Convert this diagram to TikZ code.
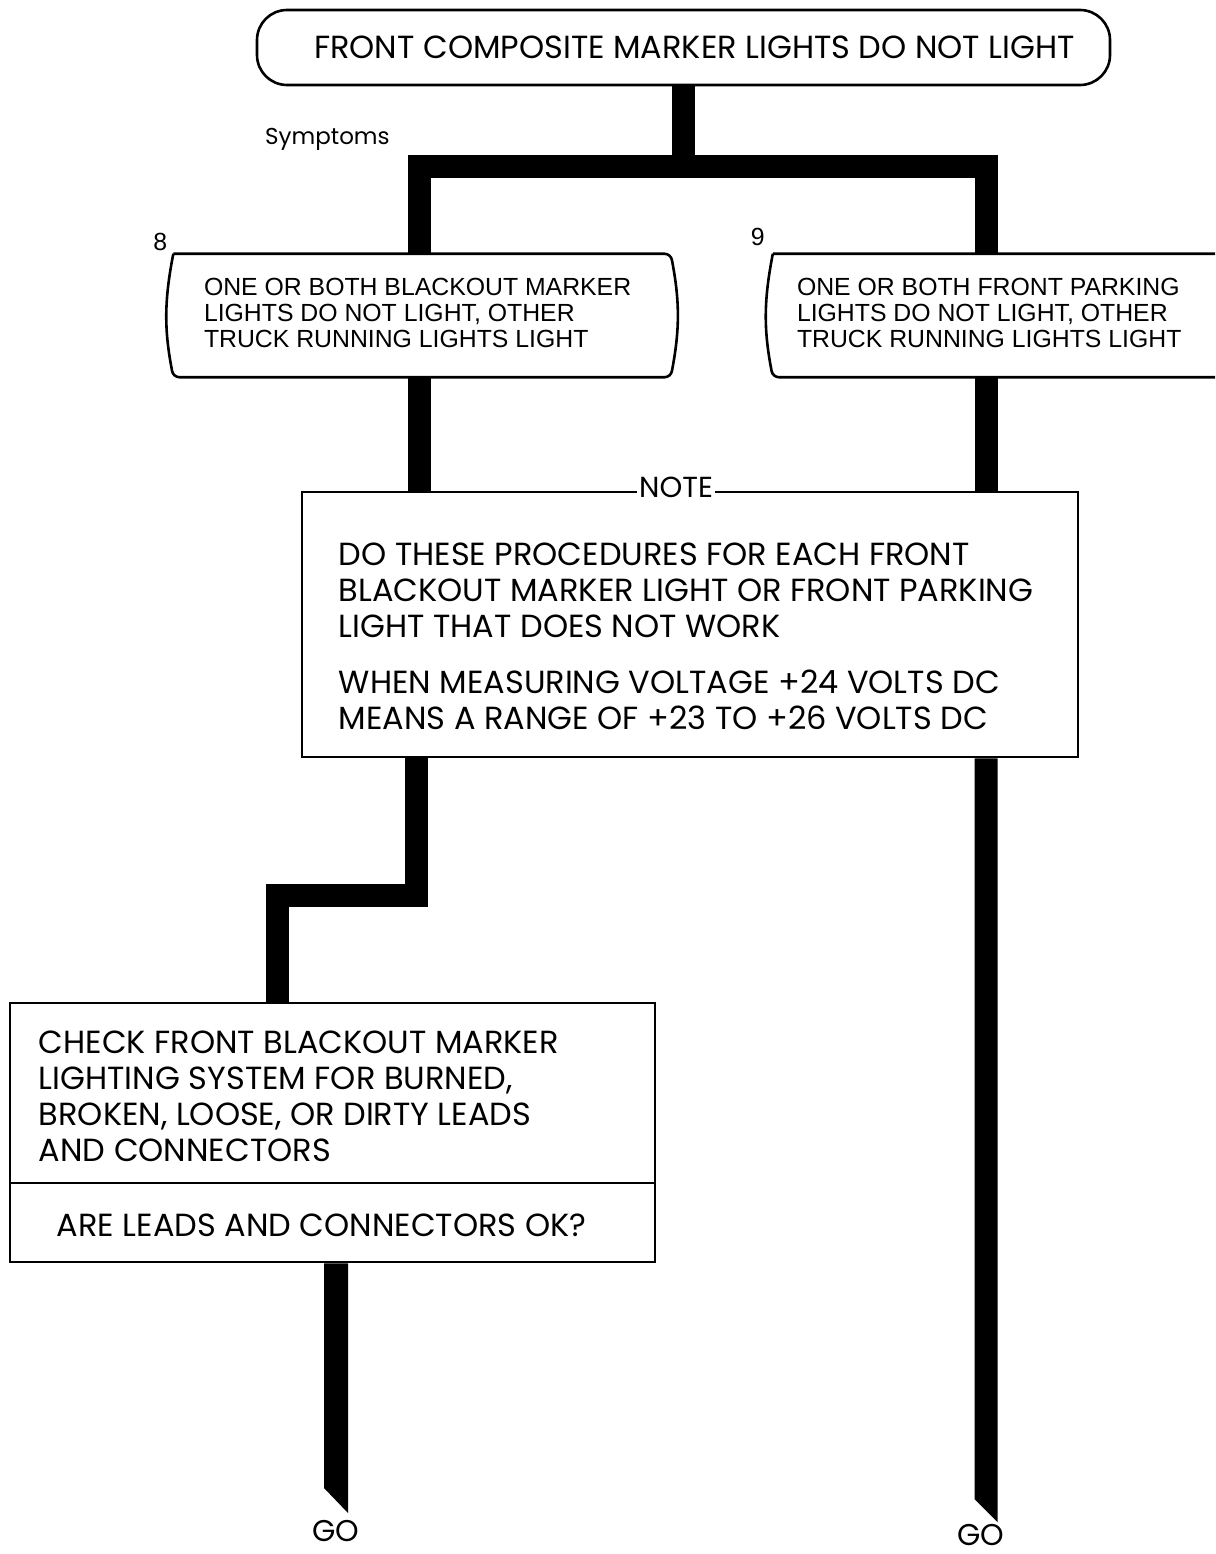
\documentclass[tikz,border=0pt]{standalone}
\usepackage{fontspec}
\newfontfamily\fut{Poppins}
\newfontfamily\helv{Liberation Sans}
\usetikzlibrary{calc}
\begin{document}
\begin{tikzpicture}[x=1pt,y=-1pt,
  flow/.style={line width=23pt, line cap=butt, line join=miter},
  outline/.style={draw, line width=2.6pt},
  futtext/.style={font=\fut\fontsize{32}{36}\selectfont, align=left, inner sep=0pt},
  helvtext/.style={font=\helv\fontsize{24.8}{26}\selectfont, align=left, inner sep=0pt},
  gotext/.style={font=\fut\fontsize{30}{32}\selectfont, inner sep=0pt},
  symbox/.style={minimum width=497pt, minimum height=123pt, inner sep=0pt},
  bulge/.style={outline, rounded corners=6pt},
  ]
\path[use as bounding box] (0,0) rectangle (1215,1554);
\clip (0,0) rectangle (1215,1554);

% top box
\node[outline, rounded corners=30pt, minimum width=853pt, minimum height=75pt] (top) at (683.5,47.5) {};
\node[futtext] (toptxt) at ($(top.center)+(11,0)$) {FRONT COMPOSITE MARKER LIGHTS DO NOT LIGHT};

\node[font=\fut\fontsize{23}{28}\selectfont, inner sep=0pt, anchor=base west] (sym) at (265,145) {Symptoms};

% symptom boxes
\node[symbox] (b8) at (422,315.5) {};
\draw[bulge] (b8.north west) -- (b8.north east) to[bend left=11] (b8.south east)
  -- (b8.south west) to[bend left=11] (b8.north west);
\node[helvtext, anchor=north west] (t8) at ($(b8.north west)+(30.5,24)$)
  {ONE OR BOTH BLACKOUT MARKER\\LIGHTS DO NOT LIGHT, OTHER\\TRUCK RUNNING LIGHTS LIGHT};
\node[helvtext, anchor=south east] (n8) at ($(b8.north west)+(-6,-3)$) {8};

\node[symbox] (b9) at (1021.5,315.5) {};
\draw[bulge] (b9.north west) -- (b9.north east) to[bend left=11] (b9.south east)
  -- (b9.south west) to[bend left=11] (b9.north west);
\node[helvtext, anchor=north west] (t9) at ($(b9.north west)+(24,24)$)
  {ONE OR BOTH FRONT PARKING\\LIGHTS DO NOT LIGHT, OTHER\\TRUCK RUNNING LIGHTS LIGHT};
\node[helvtext, anchor=south east] (n9) at ($(b9.north west)+(-8,-8)$) {9};

% note box
\node[outline, minimum width=776pt, minimum height=265pt, inner sep=0pt] (note) at (690,624.5) {};
\node[font=\fut\fontsize{29}{30}\selectfont, fill=white, inner xsep=2pt, inner ysep=1pt] (notelbl)
  at ($(note.north)+(-14,-3)$) {NOTE};
\node[futtext, anchor=north west] (notetxt) at ($(note.north west)+(38,52)$)
  {DO THESE PROCEDURES FOR EACH FRONT\\BLACKOUT MARKER LIGHT OR FRONT PARKING\\LIGHT THAT DOES NOT WORK\\[20pt]
   WHEN MEASURING VOLTAGE +24 VOLTS DC\\MEANS A RANGE OF +23 TO +26 VOLTS DC};

% check box
\node[outline, minimum width=645pt, minimum height=180pt, inner sep=0pt] (chk) at (332.5,1093) {};
\node[futtext, anchor=north west] (chktxt) at ($(chk.north west)+(30,29)$)
  {CHECK FRONT BLACKOUT MARKER\\LIGHTING SYSTEM FOR BURNED,\\BROKEN, LOOSE, OR DIRTY LEADS\\AND CONNECTORS};
\node[outline, minimum width=645pt, minimum height=79pt, inner sep=0pt] (ask) at (332.5,1222.5) {};
\node[futtext, anchor=west] (asktxt) at ($(ask.west)+(48,3)$) {ARE LEADS AND CONNECTORS OK?};

% connectors
\coordinate (jl) at (419,166.5);
\coordinate (jr) at (986,166.5);
\draw[flow] (top.south) -- (top.south |- jl);
\draw[flow] (b8.north -| jl) -- (jl) -- (jr) -- (b9.north -| jr);
\draw[flow] (b8.south -| jl) -- (note.north -| jl);
\draw[flow] (b9.south -| jr) -- (note.north -| jr);
\coordinate (s1) at (416.5,895.5);
\coordinate (s2) at (277.5,895.5);
\draw[flow] (note.south -| s1) -- (s1) -- (s2) -- (chk.north -| s2);

% GO ends
\coordinate (g1) at (336,1500.5);
\fill ($(ask.south -| g1)+(-12,0)$) -- ($(ask.south -| g1)+(12,0)$) -- ($(g1)+(12,12.5)$) -- ($(g1)+(-12,-12.5)$) -- cycle;
\node[gotext] (go1) at (336,1531) {GO};
\coordinate (g2) at (986,1510.5);
\fill ($(note.south -| g2)+(-11.5,0)$) -- ($(note.south -| g2)+(11.5,0)$) -- ($(g2)+(11.5,11.5)$) -- ($(g2)+(-11.5,-11.5)$) -- cycle;
\node[gotext] (go2) at (981,1535) {GO};
\end{tikzpicture}
\end{document}
